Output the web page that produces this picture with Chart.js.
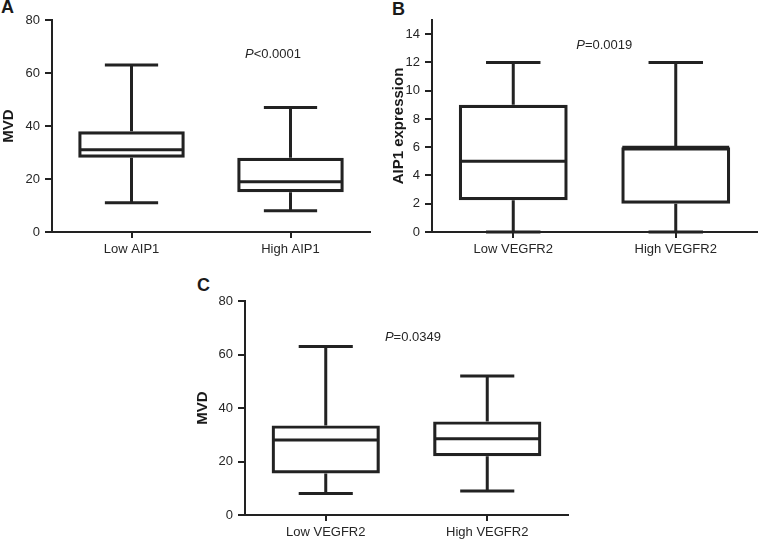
<!DOCTYPE html>
<html>
<head>
<meta charset="utf-8">
<script src="https://cdn.jsdelivr.net/npm/chart.js@4.4.0/dist/chart.umd.min.js"></script>
<style>
  html, body { margin:0; padding:0; background:#fff; }
  body { width:758px; height:539px; position:relative; overflow:hidden;
         font-family:'Liberation Sans', Arial, sans-serif; }
  canvas { position:absolute; }
  .tag { position:absolute; font-weight:bold; font-size:18px; line-height:18px; color:#1a1a1a; }
</style>
</head>
<body>
<div class="tag" style="left:1px;top:-2px">A</div>
<div class="tag" style="left:392px;top:0px">B</div>
<div class="tag" style="left:197px;top:276px">C</div>
<canvas id="chartA" width="380" height="270" style="left:0;top:0"></canvas>
<canvas id="chartB" width="368" height="270" style="left:390px;top:0"></canvas>
<canvas id="chartC" width="380" height="269" style="left:194px;top:270px"></canvas>
<script>
// ── Data ────────────────────────────────────────────────────────────────
const groupsA = ['Low AIP1', 'High AIP1'];
const minA = [11, 8];
const q1A  = [28, 15];
const medA = [31, 19];
const q3A  = [38, 28];
const maxA = [63, 47];

const groupsB = ['Low VEGFR2', 'High VEGFR2'];
const minB = [0, 0];
const q1B  = [2.25, 2];
const medB = [5, 6];
const q3B  = [9, 6];
const maxB = [12, 12];

const groupsC = ['Low VEGFR2', 'High VEGFR2'];
const minC = [8, 9];
const q1C  = [15.5, 22];
const medC = [28, 28.5];
const q3C  = [33.5, 35];
const maxC = [63, 52];

const pTextA = ['P', '<0.0001'];
const pTextB = ['P', '=0.0019'];
const pTextC = ['P', '=0.0349'];

const FONT = "'Liberation Sans', Arial, sans-serif";
const LINE = '#222';
const TXT  = '#262626';

// whiskers, caps, median and the P label, placed through the chart's scales
const boxWhiskers = {
  id: 'boxWhiskers',
  afterDatasetsDraw(chart, args, o) {
    const { ctx, scales: { x, y } } = chart;
    const bars = chart.getDatasetMeta(0).data;
    const py = v => y.getPixelForValue(v);
    ctx.save();
    ctx.strokeStyle = LINE;
    ctx.lineWidth = 3;
    o.med.forEach((m, i) => {
      const b = bars[i], cx = b.x, half = b.width / 2, cap = b.width / 4;
      ctx.beginPath();
      ctx.moveTo(cx - half + 1, py(m)); ctx.lineTo(cx + half - 1, py(m));
      ctx.moveTo(cx, py(o.q3[i]));  ctx.lineTo(cx, py(o.max[i]));
      ctx.moveTo(cx - cap, py(o.max[i])); ctx.lineTo(cx + cap, py(o.max[i]));
      ctx.moveTo(cx, py(o.q1[i]));  ctx.lineTo(cx, py(o.min[i]));
      ctx.moveTo(cx - cap, py(o.min[i])); ctx.lineTo(cx + cap, py(o.min[i]));
      ctx.stroke();
    });

    // P value note between the groups
    const x0 = x.getPixelForValue(0), x1 = x.getPixelForValue(1);
    const cx = x0 + (x1 - x0) * o.pAt;
    const cy = py(o.pVal);
    ctx.fillStyle = TXT;
    ctx.textBaseline = 'middle';
    ctx.font = 'italic 13px ' + FONT;
    const w1 = ctx.measureText(o.pText[0]).width;
    ctx.font = '13px ' + FONT;
    const w2 = ctx.measureText(o.pText[1]).width;
    const left = cx - (w1 + w2) / 2;
    ctx.font = 'italic 13px ' + FONT;
    ctx.fillText(o.pText[0], left, cy);
    ctx.font = '13px ' + FONT;
    ctx.fillText(o.pText[1], left + w1, cy);
    ctx.restore();
  }
};

function makeBox(id, labels, mn, q1, md, q3, mx, opt) {
  return new Chart(document.getElementById(id), {
    type: 'bar',
    data: {
      labels,
      datasets: [{
        data: q1.map((v, i) => [v, q3[i]]),
        backgroundColor: 'rgba(0,0,0,0)',
        borderColor: LINE,
        borderWidth: 3.2,
        borderSkipped: false,
        barPercentage: 0.67,
        categoryPercentage: 1,
      }]
    },
    options: {
      responsive: false, animation: false, devicePixelRatio: 1,
      layout: { padding: { top: opt.top, right: opt.right, left: 0, bottom: 0 } },
      plugins: {
        legend: { display: false }, tooltip: { enabled: false },
        boxWhiskers: { min: mn, q1, med: md, q3, max: mx,
                       pText: opt.pText, pAt: opt.pAt, pVal: opt.pVal },
      },
      scales: {
        x: {
          offset: true,
          grid: { drawOnChartArea: false, drawTicks: true, tickLength: 6, offset: false,
                  color: LINE, lineWidth: 2 },
          border: { display: true, color: LINE, width: 2 },
          ticks: { color: TXT, font: { family: FONT, size: 13 }, padding: 4, maxRotation: 0 },
          afterFit: s => { s.height = opt.xh; },
        },
        y: {
          min: 0, max: opt.yMax,
          ticks: { stepSize: opt.yStep, includeBounds: false, color: TXT,
                   font: { family: FONT, size: 13 }, padding: 5 },
          grid: { drawOnChartArea: false, drawTicks: true, tickLength: 7, color: LINE, lineWidth: 2 },
          border: { display: true, color: LINE, width: 2 },
          title: { display: true, text: opt.yTitle, color: '#1a1a1a', padding: 0,
                   font: { family: FONT, size: 15, weight: 'bold' } },
          afterFit: s => { s.width = opt.yw; },
        }
      }
    },
    plugins: [boxWhiskers]
  });
}

makeBox('chartA', groupsA, minA, q1A, medA, q3A, maxA,
  { top: 20, right: 10, xh: 38, yw: 52, yMax: 80, yStep: 20, yTitle: 'MVD',
    pText: pTextA, pAt: 0.89, pVal: 67 });
makeBox('chartB', groupsB, minB, q1B, medB, q3B, maxB,
  { top: 20, right: 1, xh: 38, yw: 42, yMax: 15, yStep: 2, yTitle: 'AIP1 expression',
    pText: pTextB, pAt: 0.56, pVal: 13.2 });
makeBox('chartC', groupsC, minC, q1C, medC, q3C, maxC,
  { top: 31, right: 6, xh: 24, yw: 51, yMax: 80, yStep: 20, yTitle: 'MVD',
    pText: pTextC, pAt: 0.54, pVal: 66.5 });
</script>
</body>
</html>
